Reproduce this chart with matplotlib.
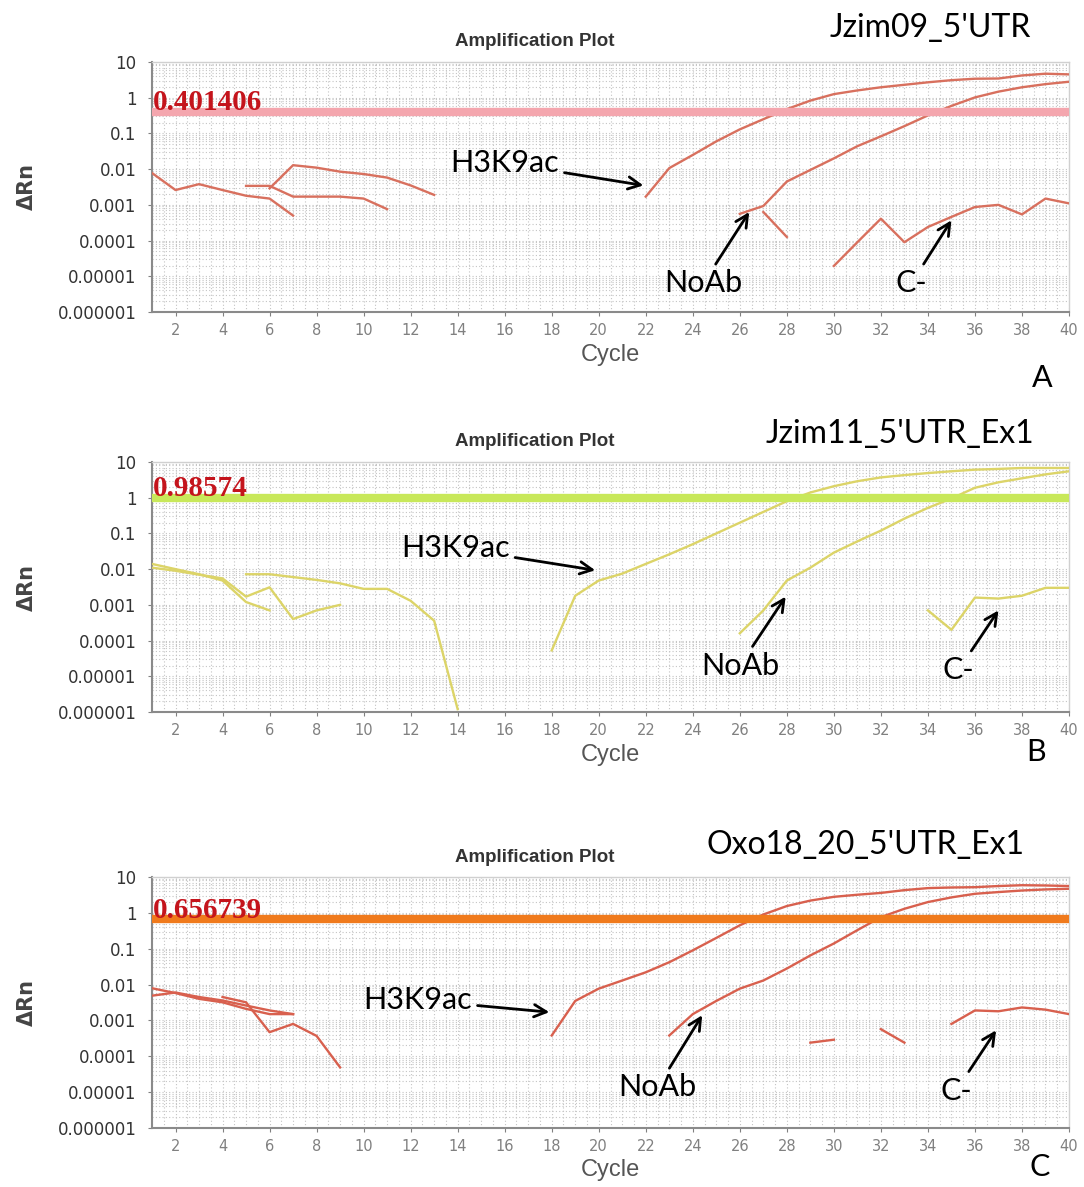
import matplotlib
matplotlib.use("Agg")
import matplotlib.pyplot as plt
import numpy as np
from matplotlib.ticker import FixedLocator, NullFormatter

# ---- data ----
y_ticks = [1e1, 1e0, 1e-1, 1e-2, 1e-3, 1e-4, 1e-5, 1e-6]
y_tick_labels = ["10", "1", "0.1", "0.01", "0.001", "0.0001", "0.00001", "0.000001"]
x_ticks = list(range(2, 41, 2))

# panel A : Jzim09_5'UTR
a_thr = 0.401406
a_bg1 = (list(range(1, 8)), [0.0078, 0.0026, 0.0038, 0.0026, 0.0018, 0.0015, 0.0005])
a_bg2 = (list(range(5, 12)), [0.0034, 0.0034, 0.0017, 0.0017, 0.0017, 0.0015, 0.00076])
a_bg3 = (list(range(6, 14)), [0.0029, 0.0129, 0.011, 0.0085, 0.0073, 0.0058, 0.0035, 0.0019])
a_h3k9ac = (list(range(22, 41)),
            [0.0017, 0.0107, 0.025, 0.06, 0.13, 0.25, 0.48, 0.83, 1.26, 1.6, 1.96,
             2.3, 2.7, 3.1, 3.4, 3.45, 4.2, 4.7, 4.5])
a_noab = (list(range(26, 41)),
          [0.00056, 0.00093, 0.0045, 0.0095, 0.02, 0.044, 0.083, 0.16, 0.32, 0.59,
           1.02, 1.48, 1.96, 2.4, 2.8])
a_noab2 = ([27, 28], [0.00063, 0.000126])
a_cneg = (list(range(30, 41)),
          [0.0000195, 0.00009, 0.00041, 0.00009, 0.00024, 0.00046, 0.00087, 0.001,
           0.00054, 0.0015, 0.0011])

# panel B : Jzim11_5'UTR_Ex1
b_thr = 0.98574
b_bg1 = (list(range(1, 7)), [0.014, 0.010, 0.0072, 0.0048, 0.0012, 0.0007])
b_bg2 = (list(range(1, 10)), [0.011, 0.009, 0.007, 0.0055, 0.0017, 0.0031, 0.0004, 0.0007, 0.001])
b_bg3 = (list(range(5, 15)), [0.0072, 0.0072, 0.006, 0.005, 0.004, 0.0028, 0.0028, 0.0013,
                              0.00036, 0.0000012])
b_h3k9ac = (list(range(18, 41)),
            [0.000053, 0.0018, 0.0048, 0.0075, 0.014, 0.026, 0.05, 0.1, 0.2, 0.4, 0.8,
             1.4, 2.1, 2.9, 3.7, 4.3, 4.9, 5.5, 6.1, 6.4, 6.8, 6.8, 6.8])
b_noab = (list(range(26, 41)),
          [0.00016, 0.0007, 0.0048, 0.011, 0.029, 0.06, 0.12, 0.26, 0.52, 0.95, 1.9,
           2.7, 3.5, 4.5, 5.5])
b_cneg = (list(range(34, 41)), [0.0007, 0.0002, 0.0016, 0.0015, 0.0018, 0.003, 0.003])

# panel C : Oxo18_20_5'UTR_Ex1
c_thr = 0.656739
c_bg1 = (list(range(1, 8)), [0.0049, 0.006, 0.0045, 0.0036, 0.0026, 0.0019, 0.0015])
c_bg2 = (list(range(1, 8)), [0.0079, 0.0058, 0.004, 0.0032, 0.0021, 0.0015, 0.0015])
c_bg3 = (list(range(4, 10)), [0.0045, 0.0032, 0.00047, 0.0008, 0.00037, 0.000049])
c_h3k9ac = (list(range(18, 41)),
            [0.00038, 0.0035, 0.0077, 0.013, 0.022, 0.042, 0.09, 0.2, 0.45, 0.9, 1.55,
             2.2, 2.8, 3.2, 3.6, 4.3, 4.9, 5.1, 5.2, 5.6, 5.9, 5.8, 5.6])
c_noab = (list(range(23, 41)),
          [0.00038, 0.0015, 0.0035, 0.0077, 0.013, 0.028, 0.065, 0.14, 0.33, 0.76,
           1.3, 2.0, 2.7, 3.4, 3.8, 4.2, 4.5, 4.7])
c_seg1 = ([29, 30], [0.00024, 0.00029])
c_seg2 = ([32, 33], [0.00057, 0.00024])
c_cneg = (list(range(35, 41)), [0.0008, 0.0019, 0.0018, 0.0023, 0.002, 0.0015])

panels = [
    dict(traces=[a_bg1, a_bg2, a_bg3, a_h3k9ac, a_noab, a_noab2, a_cneg], thr=a_thr,
         line_color="#d8705e", thr_color="#f4a6ae", name="Jzim09_5'UTR", letter="A",
         top=62, bottom=312, name_xy=(930, 28), title_y=42, cycle_y=355, letter_xy=(1042, 378),
         notes=[("H3K9ac", (16.0, 0.0148), (21.9, 0.0035)),
                ("NoAb", (24.45, 6.4e-6), (26.4, 0.00063)),
                ("C-", (33.3, 6.4e-6), (35.0, 0.00037))]),
    dict(traces=[b_bg1, b_bg2, b_bg3, b_h3k9ac, b_noab, b_cneg], thr=b_thr,
         line_color="#dcd468", thr_color="#c8e85a", name="Jzim11_5'UTR_Ex1", letter="B",
         top=462, bottom=712, name_xy=(900, 434), title_y=441, cycle_y=755, letter_xy=(1036, 752),
         notes=[("H3K9ac", (13.9, 0.039), (19.85, 0.0093)),
                ("NoAb", (26.0, 2.0e-5), (27.95, 0.0017)),
                ("C-", (35.3, 1.5e-5), (37.0, 0.0007))]),
    dict(traces=[c_bg1, c_bg2, c_bg3, c_h3k9ac, c_noab, c_seg1, c_seg2, c_cneg], thr=c_thr,
         line_color="#d8604e", thr_color="#f07a1c", name="Oxo18_20_5'UTR_Ex1", letter="C",
         top=877, bottom=1128, name_xy=(865, 845), title_y=858, cycle_y=1170, letter_xy=(1040, 1167),
         notes=[("H3K9ac", (12.3, 0.0037), (17.9, 0.0017)),
                ("NoAb", (22.5, 1.36e-5), (24.4, 0.0014)),
                ("C-", (35.2, 1.1e-5), (36.9, 0.00053))]),
]

W, H = 1084, 1187
fig = plt.figure(figsize=(W / 100, H / 100), dpi=100)
fig.patch.set_facecolor("white")

left_px, right_px = 152, 1069

for p in panels:
    ax = fig.add_axes([left_px / W, 1 - p["bottom"] / H,
                       (right_px - left_px) / W, (p["bottom"] - p["top"]) / H])
    ax.set_yscale("log")
    ax.set_xlim(1, 40)
    ax.set_ylim(1e-6, 10)

    for cyc, val in p["traces"]:
        ax.plot(cyc, val, color=p["line_color"], lw=1.7, zorder=3)

    ax.axhline(p["thr"], color=p["thr_color"], lw=6, zorder=4)
    ax.text(1.05, p["thr"] * 1.12, f"{p['thr']}", family="Liberation Serif",
            weight="bold", fontsize=21, color="#c4141c", va="baseline", ha="left", zorder=5)

    # dotted grid
    ax.xaxis.set_minor_locator(FixedLocator(np.arange(1, 40.01, 0.5)))
    minor_y = [m * 10.0 ** e for e in range(-6, 1) for m in range(2, 10)]
    ax.yaxis.set_minor_locator(FixedLocator(minor_y))
    ax.yaxis.set_minor_formatter(NullFormatter())
    ax.grid(which="both", axis="both", color="#c4c4c4", lw=0.8, ls=(0, (1, 2)), zorder=0)
    ax.tick_params(which="minor", length=0)

    ax.set_xticks(x_ticks)
    ax.set_xticklabels([str(t) for t in x_ticks], fontsize=10.5, color="#808080",
                       family="DejaVu Sans Condensed")
    ax.set_yticks(y_ticks)
    ax.set_yticklabels(y_tick_labels, fontsize=12, color="#333333", family="DejaVu Sans")
    ax.tick_params(axis="x", which="major", length=3, color="#808080", pad=5)
    ax.tick_params(axis="y", which="major", length=3, color="#808080", pad=8)

    for side in ["left", "bottom"]:
        ax.spines[side].set_color("#8a8a8a")
        ax.spines[side].set_linewidth(1.5)
    for side in ["top", "right"]:
        ax.spines[side].set_color("#d0d0d0")
        ax.spines[side].set_linewidth(1.0)

    for label, txt_xy, tip_xy in p["notes"]:
        ax.annotate(label, xy=tip_xy, xytext=txt_xy, textcoords="data",
                    fontsize=22, family="Lato", color="black", ha="center", va="center",
                    arrowprops=dict(arrowstyle="->", color="black", lw=2,
                                    mutation_scale=22, shrinkA=2, shrinkB=0),
                    zorder=6)

    # labels around the axes
    fig.text(535 / W, 1 - p["title_y"] / H, "Amplification Plot", fontsize=13.5,
             weight="bold", color="#333333", family="Liberation Sans", ha="center", va="center")
    fig.text(p["name_xy"][0] / W, 1 - p["name_xy"][1] / H, p["name"], fontsize=23,
             family="Lato", ha="center", va="center")
    fig.text(610 / W, 1 - p["cycle_y"] / H, "Cycle", fontsize=17, color="#555555",
             family="Liberation Sans", ha="center", va="center")
    fig.text(p["letter_xy"][0] / W, 1 - p["letter_xy"][1] / H, p["letter"], fontsize=22,
             family="Lato", ha="center", va="center")
    fig.text(27 / W, 1 - (p["top"] + p["bottom"]) / 2 / H, "ΔRn", fontsize=15,
             color="#444444", family="DejaVu Sans", weight="bold", rotation=90,
             ha="center", va="center")

fig.savefig("out.png", dpi=100, facecolor="white")
